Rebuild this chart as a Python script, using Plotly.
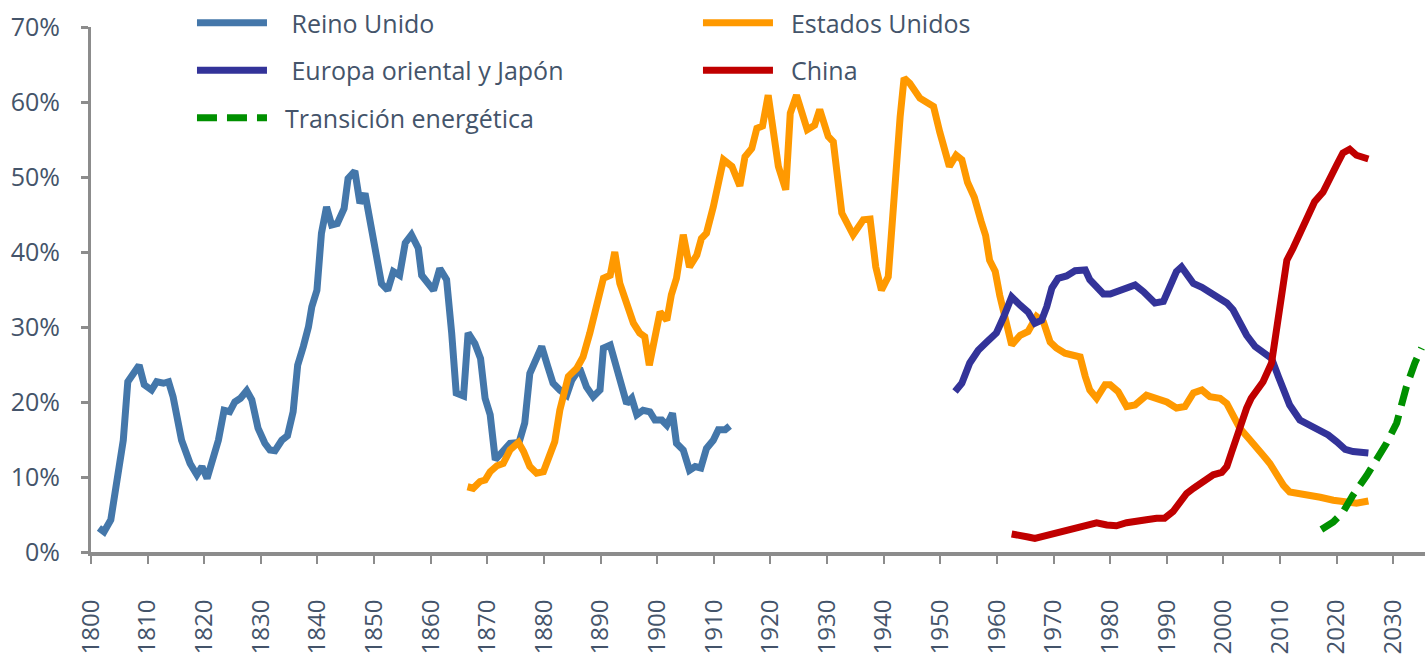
import plotly.graph_objects as go

# ---------------- data ----------------
uk_years = [1801.4, 1802.3, 1803.5, 1804.5, 1805.7, 1806.5, 1807.5, 1808.5, 1809.4, 1810.7,
            1811.6, 1812.8, 1813.7, 1814.5, 1816.0, 1817.5, 1818.7, 1819.6, 1820.5, 1821.6,
            1822.5, 1823.5, 1824.5, 1825.4, 1826.4, 1827.5, 1828.4, 1829.5, 1830.7, 1831.6,
            1832.5, 1833.7, 1834.7, 1835.7, 1836.5, 1837.5, 1838.4, 1839.0, 1839.9, 1840.7,
            1841.6, 1842.5, 1843.5, 1844.7, 1845.4, 1846.6, 1847.5, 1848.4, 1849.9, 1851.3,
            1852.4, 1853.4, 1854.5, 1855.5, 1856.6, 1857.8, 1858.4, 1859.3, 1860.5, 1861.6,
            1862.8, 1863.7, 1864.5, 1865.8, 1866.6, 1867.8, 1868.8, 1869.6, 1870.5, 1871.4,
            1872.5, 1874.0, 1875.6, 1876.6, 1877.5, 1878.6, 1879.6, 1880.6, 1881.6, 1882.8,
            1884.0, 1884.9, 1886.3, 1887.5, 1888.7, 1889.9, 1890.5, 1891.7, 1892.5, 1893.7,
            1894.6, 1895.5, 1896.4, 1897.5, 1898.7, 1899.6, 1900.8, 1901.7, 1902.7, 1903.4,
            1904.6, 1905.7, 1906.7, 1907.7, 1908.7, 1909.9, 1910.8, 1912.0, 1912.8]
uk_values = [3.2, 2.7, 4.3, 8.7, 14.9, 22.7, 23.8, 24.9, 22.3, 21.6,
             22.7, 22.5, 22.7, 20.7, 14.9, 11.8, 10.3, 11.4, 9.8, 12.7,
             14.9, 18.9, 18.7, 20.0, 20.5, 21.5, 20.3, 16.5, 14.5, 13.6,
             13.5, 14.9, 15.5, 18.7, 24.9, 27.4, 30.0, 32.7, 34.9, 42.5,
             46.0, 43.6, 43.8, 45.8, 49.8, 50.8, 46.5, 47.8, 41.6, 35.8,
             34.9, 37.4, 36.9, 41.2, 42.3, 40.5, 36.9, 36.0, 34.9, 37.8,
             36.3, 29.2, 21.2, 20.8, 29.2, 27.8, 25.8, 20.5, 18.3, 12.3,
             13.2, 14.5, 14.6, 17.2, 23.8, 25.6, 27.4, 24.9, 22.5, 21.6,
             20.9, 22.9, 24.5, 22.0, 20.7, 21.6, 27.2, 27.6, 25.2, 21.6,
             19.8, 20.5, 18.3, 18.9, 18.7, 17.6, 17.6, 16.9, 18.5, 14.5,
             13.6, 10.9, 11.4, 11.2, 13.8, 14.9, 16.3, 16.3, 16.8]

us_years = [1866.5, 1867.5, 1868.7, 1869.6, 1870.5, 1871.7, 1872.8, 1874.0, 1875.5, 1876.4,
            1877.5, 1878.7, 1879.9, 1880.8, 1881.9, 1882.8, 1883.4, 1884.3, 1885.8, 1886.9,
            1888.1, 1889.3, 1890.5, 1891.7, 1892.5, 1893.4, 1894.6, 1895.8, 1896.9, 1897.8,
            1898.6, 1899.4, 1900.5, 1901.7, 1902.5, 1903.4, 1904.6, 1905.7, 1907.0, 1907.8,
            1908.7, 1909.9, 1911.1, 1911.7, 1913.2, 1914.6, 1915.5, 1916.7, 1917.6, 1918.6,
            1919.6, 1921.4, 1922.7, 1923.5, 1924.6, 1926.5, 1927.8, 1928.7, 1930.2, 1931.1,
            1932.6, 1934.6, 1936.4, 1937.6, 1938.6, 1939.6, 1940.8, 1942.0, 1942.9, 1943.6,
            1944.6, 1946.4, 1947.6, 1948.8, 1949.9, 1951.6, 1952.8, 1953.8, 1954.8, 1956.0,
            1957.2, 1958.0, 1958.7, 1959.7, 1960.5, 1961.7, 1962.6, 1964.1, 1965.5, 1967.0,
            1968.2, 1969.4, 1970.5, 1972.0, 1973.2, 1974.7, 1975.6, 1976.4, 1977.6, 1979.1,
            1980.0, 1981.4, 1982.9, 1984.4, 1986.4, 1988.2, 1990.0, 1991.7, 1993.2, 1994.7,
            1996.2, 1997.6, 1999.4, 2000.6, 2001.7, 2002.9, 2004.4, 2005.6, 2007.0, 2008.2,
            2009.4, 2010.6, 2011.7, 2013.5, 2015.3, 2017.1, 2019.4, 2021.8, 2023.5, 2025.6]
us_values = [8.7, 8.5, 9.4, 9.6, 10.7, 11.5, 11.8, 13.6, 14.6, 13.4,
             11.4, 10.5, 10.7, 12.3, 14.7, 18.9, 20.7, 23.4, 24.5, 26.0,
             29.2, 32.5, 36.5, 36.9, 40.0, 35.8, 33.4, 30.5, 29.2, 28.7,
             24.9, 28.3, 32.0, 30.9, 34.3, 36.5, 42.3, 38.0, 39.6, 41.8,
             42.5, 46.0, 49.6, 52.3, 51.4, 48.8, 52.7, 53.8, 56.5, 56.8,
             60.9, 51.4, 48.3, 58.5, 60.9, 56.3, 56.9, 59.0, 55.4, 54.7,
             45.2, 42.3, 44.3, 44.4, 38.0, 34.9, 36.7, 50.0, 58.0, 63.2,
             62.5, 60.5, 59.9, 59.4, 56.0, 51.4, 52.9, 52.3, 49.3, 47.3,
             44.1, 42.2, 38.9, 37.4, 34.2, 30.0, 27.6, 28.9, 29.4, 31.4,
             30.7, 28.0, 27.2, 26.5, 26.3, 26.0, 23.4, 21.6, 20.5, 22.3,
             22.3, 21.4, 19.4, 19.6, 20.9, 20.4, 20.0, 19.2, 19.4, 21.2,
             21.6, 20.7, 20.5, 19.8, 18.0, 16.5, 15.2, 14.0, 12.9, 11.8,
             10.3, 8.9, 8.0, 7.8, 7.6, 7.3, 6.9, 6.6, 6.5, 6.8]

eu_years = [1952.6, 1953.8, 1955.2, 1956.7, 1958.2, 1959.9, 1961.1, 1962.6, 1964.1, 1965.5,
            1966.7, 1967.9, 1968.8, 1969.7, 1970.8, 1972.3, 1973.8, 1975.6, 1976.4, 1977.6,
            1978.8, 1980.0, 1981.7, 1982.9, 1984.4, 1985.9, 1987.0, 1987.9, 1989.4, 1990.6,
            1991.7, 1992.6, 1993.5, 1994.7, 1996.2, 1997.6, 1999.1, 2000.6, 2001.7, 2002.9,
            2004.1, 2005.6, 2007.0, 2008.5, 2009.7, 2010.6, 2011.7, 2013.5, 2015.3, 2017.1,
            2018.5, 2020.0, 2021.5, 2022.9, 2024.4, 2025.6]
eu_values = [21.4, 22.5, 25.2, 26.9, 28.0, 29.2, 31.2, 34.0, 32.9, 32.0,
             30.5, 30.9, 32.7, 35.2, 36.5, 36.8, 37.5, 37.6, 36.3, 35.4,
             34.4, 34.4, 34.9, 35.4, 35.6, 34.7, 34.0, 33.2, 33.4, 35.4,
             37.4, 38.0, 37.2, 35.8, 35.3, 34.7, 33.8, 33.2, 32.3, 30.7,
             28.9, 27.4, 26.7, 25.8, 23.4, 21.6, 19.6, 17.6, 16.9, 16.3,
             15.6, 14.7, 13.7, 13.4, 13.4, 13.2]

cn_years = [1962.6, 1964.1, 1965.5, 1966.7, 1968.2, 1970.0, 1971.7, 1973.2, 1975.0, 1976.4,
            1977.6, 1979.4, 1981.1, 1982.9, 1984.7, 1986.4, 1988.2, 1989.6, 1991.1, 1992.3,
            1993.5, 1994.7, 1995.9, 1997.0, 1998.2, 1999.7, 2000.6, 2001.4, 2002.3, 2003.2,
            2004.1, 2004.9, 2006.1, 2007.0, 2008.5, 2009.4, 2010.3, 2011.2, 2012.3, 2013.5,
            2014.7, 2016.1, 2017.6, 2018.8, 2020.0, 2021.1, 2022.3, 2023.5, 2025.6]
cn_values = [2.4, 2.3, 2.0, 1.8, 2.1, 2.3, 2.6, 3.0, 3.3, 3.7,
             3.9, 3.6, 3.5, 3.9, 4.2, 4.3, 4.5, 4.5, 5.4, 6.5,
             7.8, 8.5, 9.2, 9.7, 10.3, 10.6, 11.4, 13.2, 15.4, 17.6,
             19.2, 20.5, 21.8, 22.7, 25.2, 30.0, 34.9, 38.9, 40.5, 42.5,
             44.9, 46.7, 48.0, 49.6, 51.6, 53.2, 53.7, 52.9, 52.4]

tr_years = [2017.3, 2019.4, 2021.1, 2022.9, 2025.3, 2027.0, 2028.8, 2030.6, 2032.3, 2033.8, 2035.0]
tr_values = [3.0, 4.0, 5.3, 7.6, 10.2, 12.3, 14.5, 17.2, 22.0, 25.2, 27.2]

tick_years = list(range(1800, 2031, 10))
tick_labels = [str(y) for y in tick_years]
pct_ticks = list(range(0, 71, 10))
pct_labels = ["%d%%" % v for v in pct_ticks]

# ---------------- figure ----------------
NB = "\u00a0"
series = [
    ("Reino Unido", uk_years, uk_values, "#4477AA", "solid", "legend", 3),
    ("Estados Unidos", us_years, us_values, "#FF9900", "solid", "legend2", 2),
    ("Europa oriental y Japón", eu_years, eu_values, "#333399", "solid", "legend", 3),
    ("China", cn_years, cn_values, "#C00000", "solid", "legend2", 2),
    ("Transición energética", tr_years, tr_values, "#009000", "20px,10px", "legend", 2),
]

fig = go.Figure()
for i, (name, xs, ys, col, dash, leg, pad) in enumerate(series):
    fig.add_trace(go.Scatter(
        x=xs, y=ys, mode="lines", name=NB * pad + name,
        line=dict(color=col, width=7, dash=dash),
        legend=leg, legendgroup="g%d" % i,
        hoverinfo="skip",
    ))

txt_col = "#44546A"
legend_common = dict(
    bgcolor="rgba(0,0,0,0)", borderwidth=0, orientation="v",
    font=dict(family="Open Sans", size=25, color=txt_col),
    itemwidth=70, tracegroupgap=12, yanchor="top", xanchor="left",
)

fig.update_layout(
    width=1425, height=656,
    margin=dict(l=91, r=0, t=27, b=104, autoexpand=False),
    paper_bgcolor="white", plot_bgcolor="white",
    showlegend=True,
    legend=dict(x=0.0757, y=1.0514, **legend_common),
    legend2=dict(x=0.455, y=1.0514, **legend_common),
    xaxis=dict(
        range=[1800, 2035.6], tickmode="array", tickvals=tick_years, ticktext=tick_labels,
        tickangle=-90, showgrid=False, zeroline=False,
        showline=True, linecolor="#8C8C8C", linewidth=4,
        ticks="outside", ticklen=8, tickwidth=2, tickcolor="#8C8C8C",
        tickfont=dict(family="Open Sans", size=24, color=txt_col),
        ticklabelstandoff=26, automargin=False,
    ),
    yaxis=dict(
        range=[0, 70], tickmode="array", tickvals=pct_ticks, ticktext=pct_labels,
        showgrid=False, zeroline=False,
        showline=True, linecolor="#8C8C8C", linewidth=3,
        ticks="outside", ticklen=7, tickwidth=3, tickcolor="#8C8C8C",
        tickfont=dict(family="Open Sans", size=25, color=txt_col),
        ticklabelstandoff=16, automargin=False,
    ),
)

# remove the default 8px page margin so the figure fills the window exactly
fig.write_html("out.html", config={"displayModeBar": False},
               post_script="document.body.style.margin='0';")
